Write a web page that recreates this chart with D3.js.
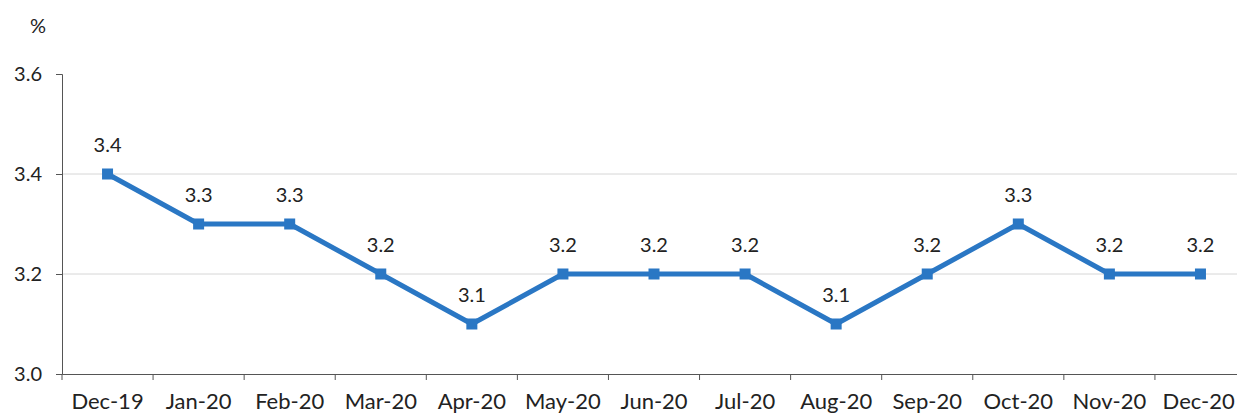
<!DOCTYPE html>
<html><head><meta charset="utf-8">
<script src="https://cdn.jsdelivr.net/npm/d3@7"></script>
<style>
body{margin:0;background:#fff;}
text{font-family:Lato,"Open Sans",sans-serif;fill:#222;}
</style></head>
<body><svg id="c" width="1237" height="416"></svg>
<script>
const categories=["Dec-19","Jan-20","Feb-20","Mar-20","Apr-20","May-20","Jun-20","Jul-20","Aug-20","Sep-20","Oct-20","Nov-20","Dec-20"];
const values=[3.4,3.3,3.3,3.2,3.1,3.2,3.2,3.2,3.1,3.2,3.3,3.2,3.2];
const yTicks=[3.0,3.2,3.4,3.6];
const gridTicks=[3.2,3.4];

const svg=d3.select("#c");
const W=1237;
const x=d3.scaleBand().domain(categories).range([62,1246]);
const y=d3.scaleLinear().domain([3.0,3.6]).range([374,74]);
const FS="20px", XFS="22px";
const FF="Lato,'Open Sans',sans-serif";

svg.append("g").selectAll("line").data(gridTicks).join("line")
  .attr("x1",62).attr("x2",W).attr("y1",d=>y(d)).attr("y2",d=>y(d))
  .attr("stroke","#d6d6d6").attr("stroke-width",1);

const ya=svg.append("g").attr("transform","translate(62,0)")
  .call(d3.axisLeft(y).tickValues(yTicks).tickFormat(d3.format(".1f")).tickSize(6).tickPadding(14));
ya.select(".domain").attr("stroke","#555");
ya.selectAll(".tick line").attr("stroke","#555");
ya.selectAll("text").style("font-size",FS).style("fill","#222").style("font-family",FF);

const xa=svg.append("g").attr("transform","translate(0,374)")
  .call(d3.axisBottom(x).tickSize(0).tickPadding(19));
xa.select(".domain").attr("stroke","#555");
xa.selectAll("text").style("font-size",XFS).style("fill","#222").style("font-family",FF);
// keep last label within the picture
xa.selectAll(".tick text").each(function(){
  const b=this.getBBox();
  const g=this.parentNode;
  const t=g.transform.baseVal.consolidate().matrix.e;
  const right=t+b.x+b.width;
  if(right>W-2){d3.select(this).attr("x",(W-2)-right);}
});
svg.append("g").selectAll("line").data(categories).join("line")
  .attr("x1",d=>x(d)).attr("x2",d=>x(d)).attr("y1",374).attr("y2",380)
  .attr("stroke","#555");

const line=d3.line().x((d,i)=>x(categories[i])+x.bandwidth()/2).y(d=>y(d));
svg.append("path").datum(values).attr("d",line).attr("fill","none")
  .attr("stroke","#2a77c4").attr("stroke-width",5).attr("stroke-linejoin","round");

svg.append("g").selectAll("rect").data(values).join("rect")
  .attr("x",(d,i)=>x(categories[i])+x.bandwidth()/2-5.5)
  .attr("y",d=>y(d)-5.5).attr("width",11).attr("height",11)
  .attr("fill","#2a77c4");

svg.append("g").selectAll("text").data(values).join("text")
  .attr("x",(d,i)=>x(categories[i])+x.bandwidth()/2)
  .attr("y",d=>y(d)-22).attr("text-anchor","middle")
  .style("font-size",FS).text(d=>d3.format(".1f")(d));

svg.append("text").attr("x",30).attr("y",33).style("font-size",FS).text("%");
</script></body></html>
